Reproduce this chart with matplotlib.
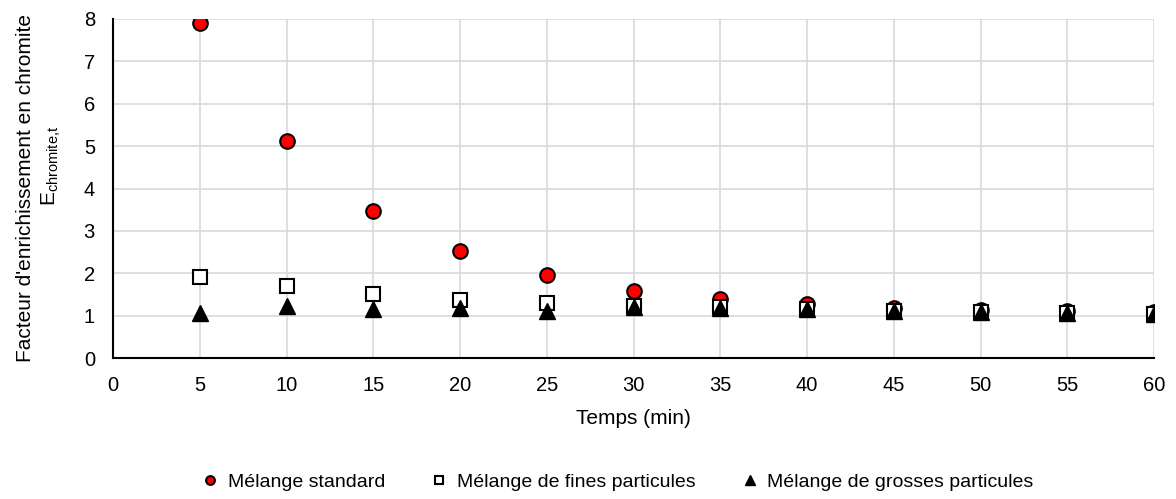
import matplotlib
matplotlib.use("Agg")
import matplotlib.pyplot as plt

plt.rcParams['font.family'] = ['Liberation Sans', 'DejaVu Sans']
plt.rcParams['mathtext.fontset'] = 'custom'
plt.rcParams['mathtext.rm'] = 'Liberation Sans'
plt.rcParams['mathtext.it'] = 'Liberation Sans'

temps = [5, 10, 15, 20, 25, 30, 35, 40, 45, 50, 55, 60]
standard = [7.91, 5.13, 3.47, 2.53, 1.96, 1.59, 1.39, 1.27, 1.19, 1.14, 1.12, 1.08]
fines = [1.90, 1.71, 1.52, 1.38, 1.29, 1.23, 1.21, 1.16, 1.12, 1.08, 1.06, 1.05]
grosses = [1.07, 1.22, 1.16, 1.17, 1.11, 1.20, 1.18, 1.15, 1.12, 1.08, 1.06, 1.05]

labels = ["Mélange standard", "Mélange de fines particules", "Mélange de grosses particules"]
xticks = list(range(0, 61, 5))
yticks = list(range(0, 9))

FS_TICK = 14.5
FS_TITLE = 15
FS_LEG = 14
fig = plt.figure(figsize=(11.76, 4.99), dpi=100)
ax = fig.add_axes([113/1176, 1-358/499, (1154-113)/1176, (358-19)/499])

ax.plot(temps, standard, linestyle='none', marker='o', markersize=10.5,
        markerfacecolor='#ff0000', markeredgecolor='black', markeredgewidth=1.5,
        label=labels[0], zorder=3)
ax.plot(temps, fines, linestyle='none', marker='s', markersize=10,
        markerfacecolor='white', markeredgecolor='black', markeredgewidth=1.5,
        label=labels[1], zorder=4)
ax.plot(temps, grosses, linestyle='none', marker='^', markersize=11,
        markerfacecolor='black', markeredgecolor='black', markeredgewidth=1,
        label=labels[2], zorder=5)

ax.set_xlim(0, 60)
ax.set_ylim(0, 8)
ax.set_xticks(xticks)
ax.set_yticks(yticks)
ax.tick_params(axis='x', length=0, labelsize=FS_TICK, pad=13)
ax.tick_params(axis='y', length=0, labelsize=FS_TICK, pad=13)
ax.grid(True, color='#d9d9d9', linewidth=1.2, zorder=0)
ax.set_axisbelow(True)
for s in ['top', 'right']:
    ax.spines[s].set_visible(False)
for s in ['left', 'bottom']:
    ax.spines[s].set_linewidth(1.5)
    ax.spines[s].set_color('black')

ax.set_xlabel("Temps (min)", fontsize=FS_TITLE, labelpad=10)

ymid = 1 - (19 + 358) / 2 / 499
fig.text(26/1176, ymid, "Facteur d'enrichissement en chromite", rotation=90,
         ha='center', va='center', fontsize=FS_TITLE)
fig.text(51/1176, 1 - 166/499, "E$_{\\mathregular{chromite{,}t}}$", rotation=90,
         ha='center', va='center', fontsize=FS_TITLE)

handles, lbls = ax.get_legend_handles_labels()
leg = fig.legend(handles, lbls, loc='center', bbox_to_anchor=(618/1176, 1-482/499),
                 ncol=3, frameon=False, fontsize=FS_LEG, markerscale=0.6,
                 handlelength=0.8, handletextpad=0.5, columnspacing=2.4)

fig.savefig("out.png", dpi=100)
